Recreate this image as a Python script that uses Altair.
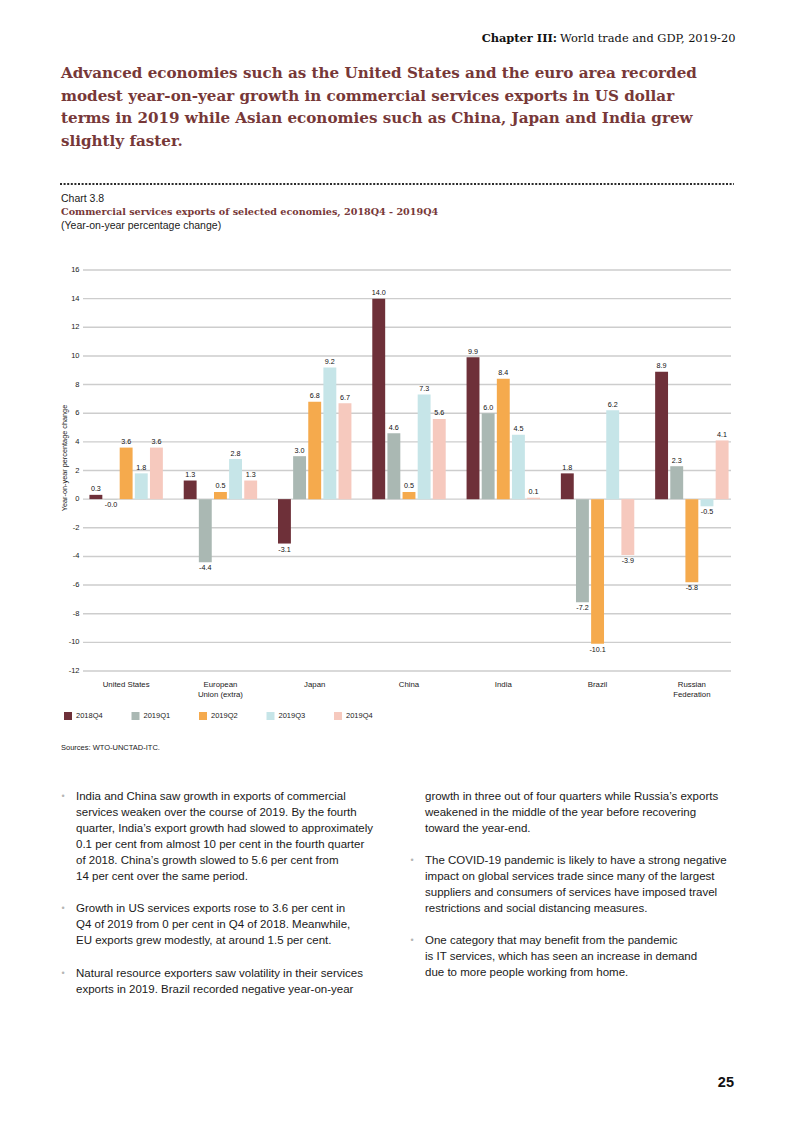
import altair as alt
import pandas as pd

countries = ["United States", "European Union (extra)", "Japan", "China", "India", "Brazil", "Russian Federation"]
quarters = ["2018Q4", "2019Q1", "2019Q2", "2019Q3", "2019Q4"]
values = {
    "United States": [0.3, -0.02, 3.6, 1.8, 3.6],
    "European Union (extra)": [1.3, -4.4, 0.5, 2.8, 1.3],
    "Japan": [-3.1, 3.0, 6.8, 9.2, 6.7],
    "China": [14.0, 4.6, 0.5, 7.3, 5.6],
    "India": [9.9, 6.0, 8.4, 4.5, 0.1],
    "Brazil": [1.8, -7.2, -10.1, 6.2, -3.9],
    "Russian Federation": [8.9, 2.3, -5.8, -0.5, 4.1],
}
colors = ["#6e3039", "#aab8b3", "#f5aa4d", "#c6e5e8", "#f6c9be"]
y_ticks = list(range(-12, 17, 2))

rows = []
for c in countries:
    for q, v in zip(quarters, values[c]):
        rows.append({"country": c, "quarter": q, "value": v, "label": f"{v:.1f}"})
df = pd.DataFrame(rows)
grid_df = pd.DataFrame({"tick": y_ticks, "tick_label": [str(t) for t in y_ticks]})

MAROON = "#773838"
SANS = "Liberation Sans"
SERIF = "DejaVu Serif"

x_enc = alt.X("country:N", sort=countries,
              scale=alt.Scale(paddingInner=0.22, paddingOuter=0.11),
              axis=alt.Axis(title=None, domain=False, ticks=False, tickSize=0, labelAngle=0,
                            labelFont=SANS, labelFontSize=7.8, labelColor="#1a1a1a",
                            labelPadding=9, labelLineHeight=10, labelBaseline="top",
                            labelExpr="datum.value == 'European Union (extra)' ? ['European', 'Union (extra)'] : datum.value == 'Russian Federation' ? ['Russian', 'Federation'] : datum.value"))
xo_enc = alt.XOffset("quarter:N", sort=quarters, scale=alt.Scale(paddingInner=0.14))
y_scale = alt.Scale(domain=[-12, 16], nice=False, zero=False)
y_enc = alt.Y("value:Q", scale=y_scale, axis=None)

grid = alt.Chart(grid_df).mark_rule(color="#cdcdcd", strokeWidth=1.4).encode(
    y=alt.Y("tick:Q", scale=y_scale, axis=None),
    x=alt.value(4), x2=alt.value(652))

y_labels = alt.Chart(grid_df).mark_text(
    align="right", baseline="middle", font=SANS, fontSize=7.5, color="#1a1a1a").encode(
    y=alt.Y("tick:Q", scale=y_scale, axis=None),
    x=alt.value(0.5), text="tick_label:N")

bars = alt.Chart(df).mark_bar(size=12.9).encode(
    x=x_enc, xOffset=xo_enc, y=y_enc, y2=alt.datum(0),
    color=alt.Color("quarter:N", sort=quarters,
                    scale=alt.Scale(domain=quarters, range=colors),
                    legend=alt.Legend(title=None, orient="none", legendX=-15, legendY=442,
                                      direction="horizontal", symbolType="square", symbolSize=64,
                                      symbolStrokeWidth=0, labelFont=SANS, labelFontSize=7.5,
                                      labelColor="#1a1a1a", labelOffset=4, columnPadding=28.5,
                                      padding=0)))

pos_text = alt.Chart(df).transform_filter("datum.value >= 0").mark_text(
    baseline="bottom", dy=-1.5, font=SANS, fontSize=7.2, color="#111111").encode(
    x=alt.X("country:N", sort=countries), xOffset=alt.XOffset("quarter:N", sort=quarters),
    y="value:Q", text="label:N")
neg_text = alt.Chart(df).transform_filter("datum.value < 0").mark_text(
    baseline="top", dy=2, font=SANS, fontSize=7.2, color="#111111").encode(
    x=alt.X("country:N", sort=countries), xOffset=alt.XOffset("quarter:N", sort=quarters),
    y="value:Q", text="label:N")

ONE = alt.Data(values=[{"k": 1}])


def txt(text, x, y, size, font=SANS, weight="normal", color="#1a1a1a", align="left",
        baseline="middle", line_height=None, angle=None):
    kw = dict(text=text, font=font, fontSize=size, fontWeight=weight, color=color,
              align=align, baseline=baseline)
    if line_height is not None:
        kw["lineHeight"] = line_height
    if angle is not None:
        kw["angle"] = angle
    return alt.Chart(ONE).mark_text(**kw).encode(x=alt.value(x), y=alt.value(y))


headline = ["Advanced economies such as the United States and the euro area recorded",
            "modest year-on-year growth in commercial services exports in US dollar",
            "terms in 2019 while Asian economies such as China, Japan and India grew",
            "slightly faster."]
p1 = ["India and China saw growth in exports of commercial",
      "services weaken over the course of 2019. By the fourth",
      "quarter, India\u2019s export growth had slowed to approximately",
      "0.1 per cent from almost 10 per cent in the fourth quarter",
      "of 2018. China\u2019s growth slowed to 5.6 per cent from",
      "14 per cent over the same period."]
p2 = ["Growth in US services exports rose to 3.6 per cent in",
      "Q4 of 2019 from 0 per cent in Q4 of 2018. Meanwhile,",
      "EU exports grew modestly, at around 1.5 per cent."]
p3 = ["Natural resource exporters saw volatility in their services",
      "exports in 2019. Brazil recorded negative year-on-year"]
p4 = ["growth in three out of four quarters while Russia\u2019s exports",
      "weakened in the middle of the year before recovering",
      "toward the year-end."]
p5 = ["The COVID-19 pandemic is likely to have a strong negative",
      "impact on global services trade since many of the largest",
      "suppliers and consumers of services have imposed travel",
      "restrictions and social distancing measures."]
p6 = ["One category that may benefit from the pandemic",
      "is IT services, which has seen an increase in demand",
      "due to more people working from home."]

BODY = 11.5
annotations = [
    txt("Chapter III:", 478, -231, 11.4, font=SERIF, weight="bold", color="#111111", align="right"),
    txt("World trade and GDP, 2019-20", 481, -231, 11.4, font=SERIF, color="#111111"),
    txt(headline, -18, -204, 15.15, font=SERIF, weight="bold", color=MAROON, baseline="top",
        line_height=22.5),
    alt.Chart(ONE).mark_rule(color="#2a2a2a", strokeWidth=2, strokeDash=[2, 1.6]).encode(
        x=alt.value(-19), x2=alt.value(655), y=alt.value(-86)),
    txt("Chart 3.8", -18, -71, 10.5),
    txt("Commercial services exports of selected economies, 2018Q4 - 2019Q4", -18, -58, 9.6,
        font=SERIF, weight="bold", color=MAROON),
    txt("(Year-on-year percentage change)", -18, -44, 10.5),
    txt("Year-on-year percentage change", -14, 188, 7.3, angle=270, align="center"),
    txt("Sources: WTO-UNCTAD-ITC.", -18, 478, 7.5),
    txt(p1, -3, 521, BODY, baseline="top", line_height=16),
    txt(p2, -3, 633, BODY, baseline="top", line_height=16),
    txt(p3, -3, 698, BODY, baseline="top", line_height=16),
    txt(p4, 346, 521, BODY, baseline="top", line_height=16),
    txt(p5, 346, 585, BODY, baseline="top", line_height=16),
    txt(p6, 346, 665, BODY, baseline="top", line_height=16),
    txt("25", 655, 813, 14.5, weight="bold", color="#111111", align="right"),
]
for bx, by in [(-16, 526), (-16, 638), (-16, 703), (333, 590), (333, 670)]:
    annotations.append(txt("\u2022", bx, by, 9, color="#b5b5b5", align="center"))

chart = alt.layer(grid, y_labels, bars, pos_text, neg_text, *annotations).properties(
    width=660, height=401,
    padding={"left": 71, "top": 262, "right": 46, "bottom": 438},
    autosize=alt.AutoSizeParams(type="none"),
    background="white",
).configure_view(stroke=None)

chart.save("out.html", embed_options={"renderer": "svg", "actions": False})
